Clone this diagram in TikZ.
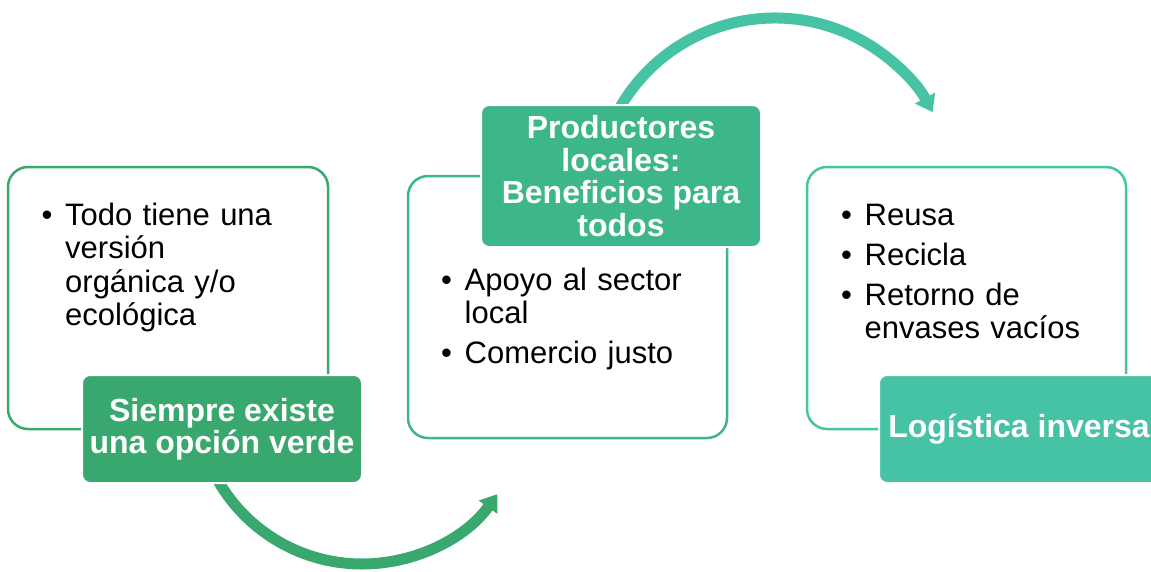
\documentclass[tikz,border=0pt]{standalone}
\usepackage{fontspec}
\setmainfont{Liberation Sans}
\usetikzlibrary{arrows.meta,calc}
\definecolor{gA}{HTML}{38A86E}
\definecolor{gB}{HTML}{3DB68A}
\definecolor{gC}{HTML}{46C2A4}
\newcommand\bitem[1]{\par\noindent\hangindent=23.5pt\hangafter=1\makebox[23.5pt][l]{\textbullet}#1\par}
\tikzset{
  outl/.style={draw, line width=2.5pt, rounded corners=20pt, fill=white, inner sep=0pt},
  lab/.style={draw=white, line width=2pt, rounded corners=8pt, text=white, align=center, inner sep=0pt,
    minimum width=280pt, font=\fontsize{32}{32.5}\selectfont\bfseries},
  body/.style={anchor=north west, inner sep=0pt, text width=300pt,
    font=\fontsize{31}{33.3}\selectfont, execute at begin node={\raggedright\setlength\parskip{6.5pt}}},
  flow/.style={line width=11pt, -{Triangle[width=22pt,length=16pt]}}
}
\begin{document}
\begin{tikzpicture}[x=1pt,y=-1pt]
\useasboundingbox (0,0) rectangle (1151,571);
% outline boxes
\node[outl, draw=gA, minimum width=320pt, minimum height=262pt] (b1) at (168,298) {};
\node[outl, draw=gB, minimum width=319pt, minimum height=262pt] (b2) at (567.5,307) {};
\node[outl, draw=gC, minimum width=319pt, minimum height=262pt] (b3) at (966.5,298) {};
% body texts
\node[body] (t1) at (41.5,185.6) {\bitem{Todo tiene una\newline versión\newline orgánica y/o\newline ecológica}};
\node[body] (t2) at (441,250.6) {\bitem{Apoyo al sector\newline local}\bitem{Comercio justo}};
\node[body] (t3) at (841,185.6) {\bitem{Reusa}\bitem{Recicla}\bitem{Retorno de\newline envases vacíos}};
% arrows
\coordinate (a1s) at ($(362,398)+(150:166)$);
\coordinate (a2s) at ($(775,197)+(-150:179)$);
\draw[flow, color=gA] (a1s) arc[start angle=150, end angle=35.4, radius=166];
\draw[flow, color=gC] (a2s) arc[start angle=-150, end angle=-28.3, radius=179];
% labels
\node[lab, fill=gA, minimum height=108pt] (l1) at (222,429) {Siempre existe\\una opción verde};
\node[lab, fill=gB, minimum height=142pt] (l2) at (621,176) {Productores\\locales:\\Beneficios para\\todos};
\node[lab, fill=gC, minimum height=108pt] (l3) at (1019,429) {Logística inversa};
\end{tikzpicture}
\end{document}
